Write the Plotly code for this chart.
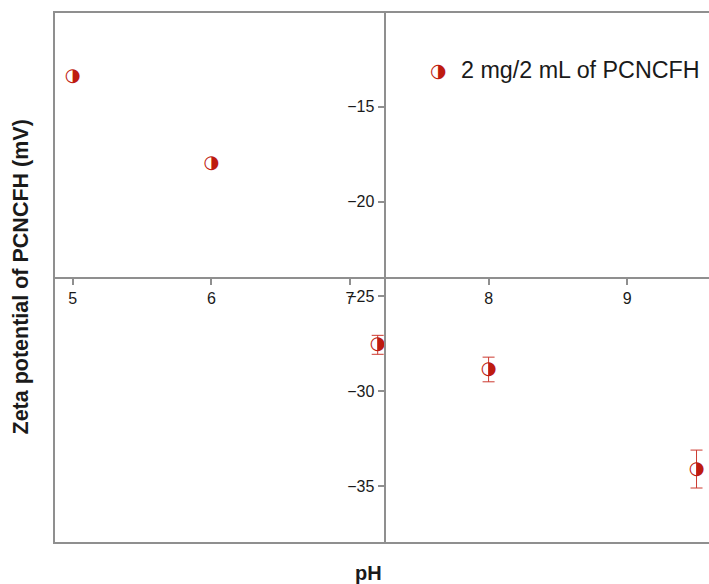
import plotly.graph_objects as go

# Data
ph = [5.0, 6.0, 7.2, 8.0, 9.5]
zeta = [-13.4, -18.0, -27.55, -28.85, -34.1]
zeta_err = [0.0, 0.0, 0.5, 0.65, 1.0]
series_name = "2 mg/2 mL of PCNCFH"
x_ticks = [5, 6, 7, 8, 9]
y_ticks = [-15, -20, -25, -30, -35]

RED = "#BE1B10"
ERR = "#CC3A30"
AXC = "#8f8f8f"
FONT = "Liberation Sans, Arial, sans-serif"

x_range = [4.865, 9.59]
y_range = [-38.0, -10.0]
x_cross = 7.25   # where the y axis crosses
y_cross = -24.0  # where the x axis crosses

# only points that carry a measured spread get an error bar
err_idx = [i for i, e in enumerate(zeta_err) if e > 0]

fig = go.Figure()
fig.add_trace(go.Scatter(
    x=[ph[i] for i in err_idx], y=[zeta[i] for i in err_idx],
    mode="markers", marker=dict(size=1, opacity=0, color=ERR),
    error_y=dict(type="data", array=[zeta_err[i] for i in err_idx], visible=True,
                 color=ERR, thickness=1, width=6),
    showlegend=False, hoverinfo="skip", cliponaxis=False,
))
fig.add_trace(go.Scatter(
    x=ph, y=zeta, mode="text", text=["\u25D1"] * len(ph),
    textposition="middle center",
    textfont=dict(family="DejaVu Sans", size=18, color=RED),
    name=series_name, showlegend=False, cliponaxis=False,
))

W, H = 709, 584
ml, mr, mt, mb = 54, 0, 12, 41
pw = W - ml - mr
ph_ = H - mt - mb

def px_x(p):
    return (p - ml) / pw

def px_y(p):
    return 1 - (p - mt) / ph_

fig.update_layout(
    width=W, height=H,
    margin=dict(l=ml, r=mr, t=mt, b=mb),
    paper_bgcolor="white", plot_bgcolor="white",
    showlegend=False,
    font=dict(family=FONT, size=16, color="#1a1a1a"),
    xaxis=dict(
        range=x_range, anchor="free",
        position=(y_cross - y_range[0]) / (y_range[1] - y_range[0]),
        showgrid=False, zeroline=False, showline=True, linecolor=AXC, linewidth=2,
        ticks="outside", ticklen=6, tickwidth=2, tickcolor=AXC,
        tickvals=x_ticks, ticktext=[str(v) for v in x_ticks],
        tickfont=dict(family=FONT, size=16, color="#1a1a1a"),
    ),
    yaxis=dict(
        range=y_range, anchor="free",
        position=(x_cross - x_range[0]) / (x_range[1] - x_range[0]),
        showgrid=False, zeroline=False, showline=True, linecolor=AXC, linewidth=2,
        ticks="outside", ticklen=6, tickwidth=2, tickcolor=AXC,
        tickvals=y_ticks, ticktext=["\u2212" + str(abs(v)) for v in y_ticks],
        tickfont=dict(family=FONT, size=16, color="#1a1a1a"),
    ),
    shapes=[dict(type="rect", xref="paper", yref="paper", x0=0, x1=1.05, y0=0, y1=1,
                 line=dict(color=AXC, width=2), fillcolor="rgba(0,0,0,0)", layer="above")],
    annotations=[
        dict(text="<b>pH</b>", xref="paper", yref="paper", x=px_x(368), y=px_y(573),
             showarrow=False, font=dict(family=FONT, size=20, color="#1a1a1a"),
             xanchor="center", yanchor="middle"),
        dict(text="<b>Zeta potential of PCNCFH (mV)</b>", xref="paper", yref="paper",
             x=px_x(20), y=0.5, textangle=-90, showarrow=False,
             font=dict(family=FONT, size=21.5, color="#1a1a1a"),
             xanchor="center", yanchor="middle"),
        dict(text="\u25D1", xref="paper", yref="paper", x=px_x(438), y=px_y(70),
             showarrow=False, font=dict(family="DejaVu Sans", size=19, color=RED),
             xanchor="center", yanchor="middle"),
        dict(text=series_name, xref="paper", yref="paper", x=px_x(459), y=px_y(70),
             showarrow=False, font=dict(family=FONT, size=23.3, color="#1a1a1a"),
             xanchor="left", yanchor="middle"),
    ],
)

fig.write_html("out.html", config={"displayModeBar": False},
               post_script="document.body.style.margin='0';")
